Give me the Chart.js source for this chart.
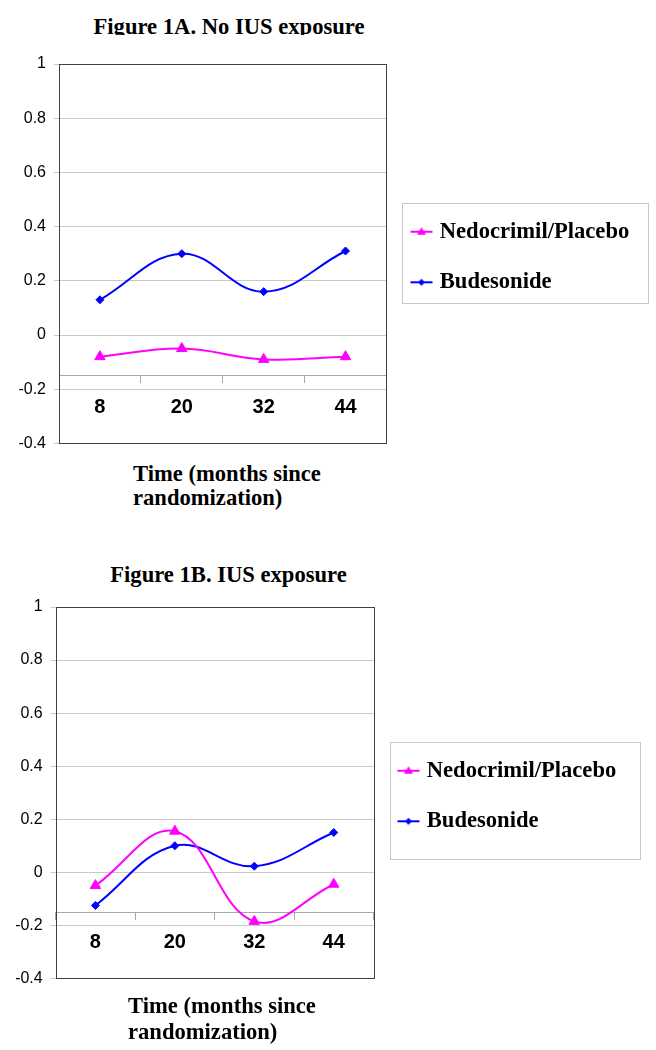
<!DOCTYPE html>
<html>
<head>
<meta charset="utf-8">
<script src="https://cdn.jsdelivr.net/npm/chart.js@4/dist/chart.umd.min.js"></script>
<style>
  body { margin: 0; background: #fff; width: 656px; height: 1050px; position: relative; overflow: hidden; }
  .serif { font-family: 'Liberation Serif', 'Times New Roman', serif; font-weight: bold; font-size: 22.6px; color: #000; position: absolute; white-space: nowrap; }
  canvas { position: absolute; left: 0; }
</style>
</head>
<body>
<!-- the top title is cut off at its baseline in the original -->
<div style="position:absolute; left:0; top:0; width:458px; height:35px; overflow:hidden;">
  <div class="serif" style="left:0; top:14.4px; width:458px; text-align:center; line-height:26px;">Figure 1A. No IUS exposure</div>
</div>
<canvas id="chartA" width="656" height="417" style="top:44px"></canvas>
<div class="serif" style="left:133px; top:462.4px; line-height:23.3px;">Time (months since<br>randomization)</div>

<div class="serif" style="left:0; top:561.7px; width:457px; text-align:center; line-height:26px;">Figure 1B. IUS exposure</div>
<canvas id="chartB" width="656" height="409" style="top:586.7px"></canvas>
<div class="serif" style="left:128px; top:992.7px; line-height:26px;">Time (months since<br>randomization)</div>

<script>
// values
const months = ['8', '20', '32', '44'];
const seriesNames = ['Nedocrimil/Placebo', 'Budesonide'];
const nedocrimilA = [-0.08, -0.05, -0.09, -0.08];
const budesonideA = [0.13, 0.30, 0.16, 0.31];
const nedocrimilB = [-0.05, 0.155, -0.185, -0.045];
const budesonideB = [-0.125, 0.10, 0.023, 0.15];
const yMin = -0.4, yMax = 1, yStep = 0.2;
const xAxisCross = -0.15;

const MAGENTA = '#ff00ff';
const BLUE = '#0000ff';
const SANS = "'Liberation Sans', Arial, sans-serif";
const SERIF = "'Liberation Serif', 'Times New Roman', serif";

// little line+marker pictures for the legend
function makeIcon(color, shape) {
  const c = document.createElement('canvas');
  c.width = 24; c.height = 12;
  const ctx = c.getContext('2d');
  ctx.strokeStyle = color; ctx.fillStyle = color; ctx.lineWidth = 2;
  ctx.beginPath(); ctx.moveTo(1, 6); ctx.lineTo(23, 6); ctx.stroke();
  ctx.beginPath();
  if (shape === 'triangle') {
    ctx.moveTo(12, 1.5); ctx.lineTo(16.5, 9); ctx.lineTo(7.5, 9);
  } else {
    ctx.moveTo(12, 2.5); ctx.lineTo(15.5, 6); ctx.lineTo(12, 9.5); ctx.lineTo(8.5, 6);
  }
  ctx.closePath(); ctx.fill();
  return c;
}
const legendIcons = [makeIcon(MAGENTA, 'triangle'), makeIcon(BLUE, 'diamond')];

const plotFrame = {
  id: 'plotFrame',
  beforeDatasetsDraw(chart) {
    const a = chart.chartArea, ctx = chart.ctx;
    ctx.save();
    ctx.strokeStyle = '#404040';
    ctx.lineWidth = 1;
    ctx.strokeRect(Math.round(a.left) + 0.5, Math.round(a.top) + 0.5,
      Math.round(a.right - a.left), Math.round(a.bottom - a.top));
    ctx.restore();
  }
};

const legendFrame = {
  id: 'legendFrame',
  afterDraw(chart, args, opts) {
    const hb = chart.legend && chart.legend.legendHitBoxes;
    if (!hb || !hb.length) return;
    const first = hb[0], last = hb[hb.length - 1];
    const x1 = Math.round(first.left - opts.left) + 0.5;
    const x2 = Math.round(first.left + opts.right) + 0.5;
    const y1 = Math.round(first.top - opts.top) + 0.5;
    const y2 = Math.round(last.top + opts.bottom) + 0.5;
    const ctx = chart.ctx;
    ctx.save();
    ctx.strokeStyle = '#c8c8c8';
    ctx.lineWidth = 1;
    ctx.strokeRect(x1, y1, x2 - x1, y2 - y1);
    ctx.restore();
  }
};

function makeChart(id, nedo, bud, cfg) {
  const ctx = document.getElementById(id).getContext('2d');
  return new Chart(ctx, {
    type: 'line',
    data: {
      labels: months,
      datasets: [
        {
          label: seriesNames[0], data: nedo,
          borderColor: MAGENTA, backgroundColor: MAGENTA, borderWidth: 2,
          pointStyle: 'triangle', pointRadius: 6, pointBorderWidth: 1, tension: 0.4
        },
        {
          label: seriesNames[1], data: bud,
          borderColor: BLUE, backgroundColor: BLUE, borderWidth: 2,
          pointStyle: 'rectRot', pointRadius: 4, pointBorderWidth: 1, tension: 0.4
        }
      ]
    },
    options: {
      responsive: false,
      animation: false,
      devicePixelRatio: 1,
      layout: { padding: { top: 20, bottom: 11, left: 0, right: cfg.padRight } },
      scales: {
        x: {
          type: 'category',
          offset: true,
          position: { y: xAxisCross },
          border: { display: true, color: '#a8a8a8', width: 1 },
          grid: { offset: true, drawOnChartArea: false, drawTicks: true, tickLength: 7, color: '#a8a8a8' },
          ticks: { color: '#000', padding: cfg.xPad, font: { family: SANS, size: 20, weight: 'bold' }, maxRotation: 0 }
        },
        y: {
          min: yMin, max: yMax,
          afterFit: s => { s.width = cfg.yWidth; },
          border: { display: false },
          grid: { color: '#c8c8c8', drawTicks: true, tickLength: 5 },
          ticks: {
            stepSize: yStep, color: '#000', padding: 8,
            font: { family: SANS, size: 16 },
            callback: v => String(+v.toFixed(1))
          }
        }
      },
      plugins: {
        title: { display: false },
        tooltip: { enabled: false },
        legend: {
          position: 'right',
          maxWidth: 400,
          labels: {
            usePointStyle: true,
            boxWidth: 14, boxHeight: 10,
            padding: 28,
            color: '#000',
            font: { family: SERIF, size: 22.6, weight: 'bold' },
            generateLabels: chart => Chart.defaults.plugins.legend.labels.generateLabels(chart)
              .map((item, i) => Object.assign(item, { pointStyle: legendIcons[i] }))
          }
        },
        legendFrame: cfg.frame
      }
    },
    plugins: [plotFrame, legendFrame]
  });
}

makeChart('chartA', nedocrimilA, budesonideA, {
  padRight: 16.75, yWidth: 59, xPad: 13,
  frame: { left: 12, right: 234, top: 17, bottom: 32 }
});
makeChart('chartB', nedocrimilB, budesonideB, {
  padRight: 29.75, yWidth: 55.7, xPad: 11.5,
  frame: { left: 11, right: 239, top: 17, bottom: 49 }
});
</script>
</body>
</html>
